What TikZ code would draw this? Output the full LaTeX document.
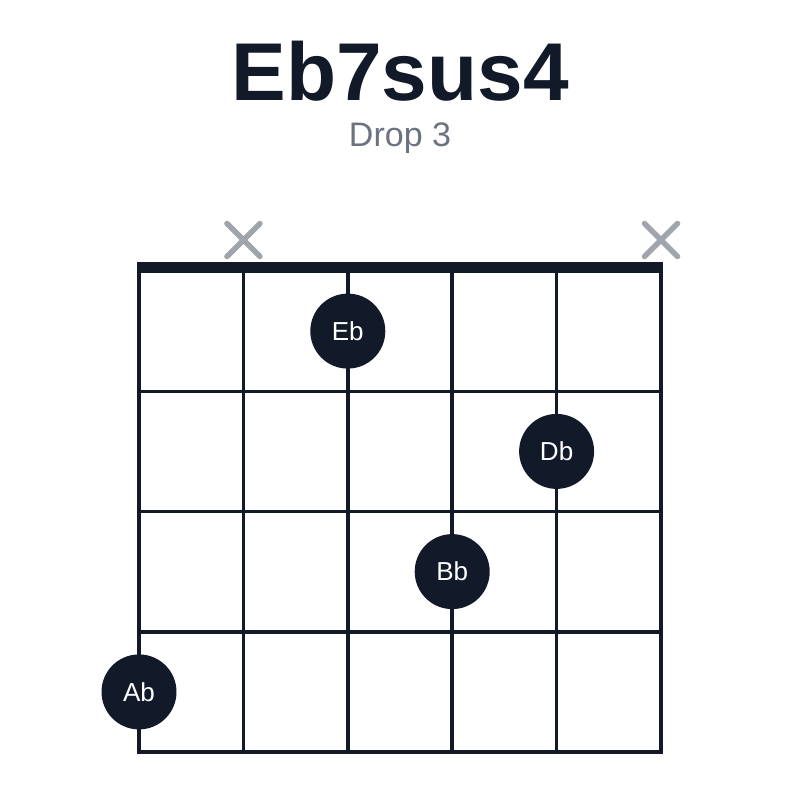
\documentclass[tikz,border=0pt]{standalone}
\usepackage{fontspec}
\setmainfont{Liberation Sans}
\usetikzlibrary{calc}
\definecolor{ink}{HTML}{121A2A}
\definecolor{mute}{HTML}{A0A4AC}
\definecolor{sub}{HTML}{6B7280}
\begin{document}
\begin{tikzpicture}[x=1pt,y=-1pt,
  gridline/.style={draw=ink,line width=3.5pt},
  nutline/.style={draw=ink,line width=11.5pt},
  mutemark/.style={draw=mute,line width=5.5pt,line cap=round},
  finger/.style={circle,fill=ink,minimum size=75pt,inner sep=0pt,text=white,font=\fontsize{26}{26}\selectfont},
]
\useasboundingbox (0,0) rectangle (800,800);
\fill[white] (0,0) rectangle (800,800);
% title
\node[anchor=base,text=ink,font=\fontsize{82}{82}\selectfont\bfseries,inner sep=0pt] (title) at (400,100) {Eb7sus4};
\node[anchor=base,text=sub,font=\fontsize{34}{34}\selectfont,inner sep=0pt] (subtitle) at (400,146) {Drop 3};
% strings
\foreach \i in {0,...,5} {
  \draw[gridline] ({139+\i*104.4},268) -- ({139+\i*104.4},752);
}
% frets
\foreach \j in {1,...,4} {
  \draw[gridline] (137.25,{271+\j*120.25}) -- (662.75,{271+\j*120.25});
}
% nut
\draw[nutline] (137.25,267.5) -- (662.75,267.5);
% muted strings
\foreach \x/\n in {243.4/mA,661/mB} {
  \coordinate (\n) at (\x,240);
  \draw[mutemark] ($(\n)+(-16.5,-16.5)$) -- ($(\n)+(16.5,16.5)$);
  \draw[mutemark] ($(\n)+(-16.5,16.5)$) -- ($(\n)+(16.5,-16.5)$);
}
% fingers
\node[finger] (eb) at (347.8,331.1) {Eb};
\node[finger] (db) at (556.6,451.4) {Db};
\node[finger] (bb) at (452.2,571.6) {Bb};
\node[finger] (ab) at (139,691.9) {Ab};
\end{tikzpicture}
\end{document}
